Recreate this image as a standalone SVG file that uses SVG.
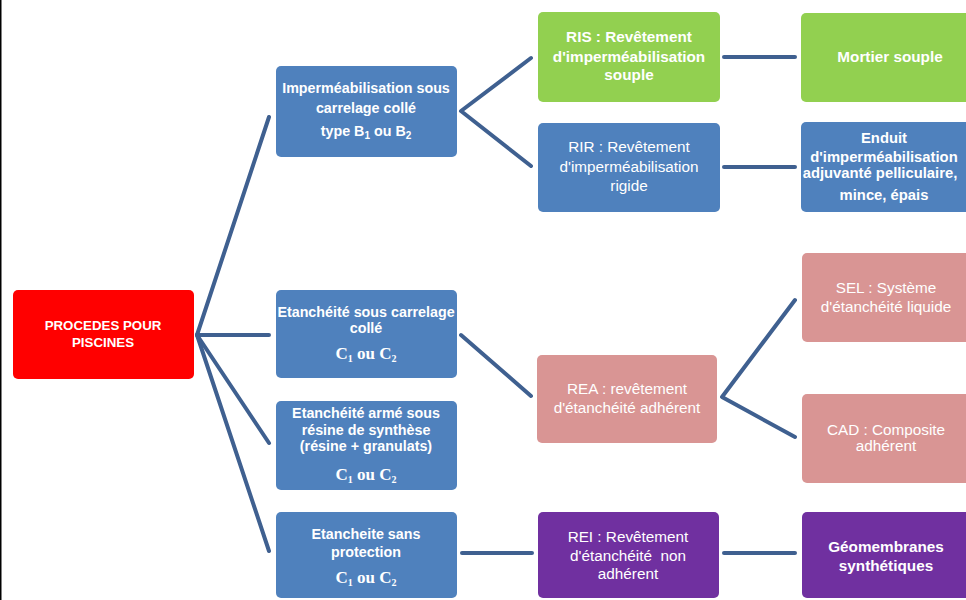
<svg xmlns="http://www.w3.org/2000/svg" width="966" height="600" viewBox="0 0 966 600">
<style>
.t{font-family:"Liberation Sans","DejaVu Sans",sans-serif;font-size:15.3px;fill:#ffffff;text-anchor:middle}
.l1{font-size:14.3px}
.rt{font-size:13.3px}
.en{font-size:14.8px}
.b{font-weight:bold}
.s{font-family:"Liberation Serif","DejaVu Serif",serif;font-weight:bold;font-size:17px;fill:#ffffff;text-anchor:middle}
.sub{font-size:10px}
.pre{white-space:pre}
.blue{fill:#4F81BD}
.green{fill:#92D050}
.pink{fill:#D99594}
.purple{fill:#7030A0}
.red{fill:#FF0000}
.c{stroke:#3F6090;stroke-width:4;fill:none;stroke-linecap:round;stroke-linejoin:round}
</style>
<rect x="0" y="0" width="966" height="600" fill="#ffffff"/>
<rect x="0" y="0" width="1.5" height="600" fill="#000000"/>
<g id="connectors">
<polyline class="c" points="269,117 197,335 269,335"/>
<polyline class="c" points="197,335 269,443"/>
<polyline class="c" points="197,335 269,551"/>
<polyline class="c" points="531,58 461,111 531,166"/>
<line class="c" x1="724" y1="57" x2="795" y2="57"/>
<line class="c" x1="724" y1="167" x2="795" y2="167"/>
<line class="c" x1="461" y1="335" x2="531" y2="396"/>
<polyline class="c" points="795,300 722,397 795,437"/>
<line class="c" x1="462" y1="553" x2="532" y2="553"/>
<line class="c" x1="724" y1="553" x2="795" y2="553"/>
</g>
<g id="root">
<rect class="red" x="13" y="290" width="181" height="89" rx="5"/>
<text class="t rt b" x="103" y="330">PROCEDES POUR</text>
<text class="t rt b" x="103" y="347">PISCINES</text>
</g>
<g id="n-imper">
<rect class="blue" x="276" y="66" width="181" height="91" rx="5"/>
<text class="t l1 b" x="366" y="93">Imperméabilisation sous</text>
<text class="t l1 b" x="366" y="113">carrelage collé</text>
<text class="t l1 b" x="366" y="136">type B<tspan class="sub" dy="3">1</tspan><tspan dy="-3"> ou B</tspan><tspan class="sub" dy="3">2</tspan></text>
</g>
<g id="n-etan1">
<rect class="blue" x="276" y="290" width="181" height="88" rx="5"/>
<text class="t l1 b" x="366" y="317">Etanchéité sous carrelage</text>
<text class="t l1 b" x="366" y="333">collé</text>
<text class="s" x="366" y="359">C<tspan class="sub" dy="3">1</tspan><tspan dy="-3"> ou C</tspan><tspan class="sub" dy="3">2</tspan></text>
</g>
<g id="n-etan2">
<rect class="blue" x="276" y="401" width="181" height="89" rx="5"/>
<text class="t l1 b" x="366" y="418">Etanchéité armé sous</text>
<text class="t l1 b" x="366" y="435">résine de synthèse</text>
<text class="t l1 b" x="366" y="451">(résine + granulats)</text>
<text class="s" x="366" y="480">C<tspan class="sub" dy="3">1</tspan><tspan dy="-3"> ou C</tspan><tspan class="sub" dy="3">2</tspan></text>
</g>
<g id="n-etan3">
<rect class="blue" x="276" y="512" width="181" height="86" rx="5"/>
<text class="t l1 b" x="366" y="539">Etancheite sans</text>
<text class="t l1 b" x="366" y="557">protection</text>
<text class="s" x="366" y="583">C<tspan class="sub" dy="3">1</tspan><tspan dy="-3"> ou C</tspan><tspan class="sub" dy="3">2</tspan></text>
</g>
<g id="n-ris">
<rect class="green" x="538" y="12" width="182" height="90" rx="5"/>
<text class="t b" x="629" y="42">RIS : Revêtement</text>
<text class="t b" x="629" y="62">d'imperméabilisation</text>
<text class="t b" x="629" y="80">souple</text>
</g>
<g id="n-rir">
<rect class="blue" x="538" y="123" width="182" height="89" rx="5"/>
<text class="t" x="629" y="152">RIR : Revêtement</text>
<text class="t" x="629" y="172">d'imperméabilisation</text>
<text class="t" x="629" y="191">rigide</text>
</g>
<g id="n-rea">
<rect class="pink" x="537" y="355" width="180" height="88" rx="5"/>
<text class="t" x="627" y="394">REA : revêtement</text>
<text class="t" x="627" y="413">d'étanchéité adhérent</text>
</g>
<g id="n-rei">
<rect class="purple" x="538" y="512" width="181" height="86" rx="5"/>
<text class="t" x="628" y="542">REI : Revêtement</text>
<text class="t pre" x="628" y="561">d'étanchéité  non</text>
<text class="t" x="628" y="579">adhérent</text>
</g>
<g id="n-mortier">
<rect class="green" x="801" y="13" width="175" height="89" rx="5"/>
<text class="t b" x="890" y="62">Mortier souple</text>
</g>
<g id="n-enduit">
<rect class="blue" x="801" y="122" width="175" height="90" rx="5"/>
<text class="t en b" x="884" y="143">Enduit</text>
<text class="t en b" x="884" y="162">d'imperméabilisation</text>
<text class="t en b" x="880" y="178">adjuvanté pelliculaire,</text>
<text class="t en b" x="884" y="200">mince, épais</text>
</g>
<g id="n-sel">
<rect class="pink" x="802" y="253" width="174" height="89" rx="5"/>
<text class="t" x="886" y="293">SEL : Système</text>
<text class="t" x="886" y="312">d'étanchéité liquide</text>
</g>
<g id="n-cad">
<rect class="pink" x="802" y="394" width="174" height="89" rx="5"/>
<text class="t" x="886" y="435">CAD : Composite</text>
<text class="t" x="886" y="451">adhérent</text>
</g>
<g id="n-geo">
<rect class="purple" x="802" y="512" width="174" height="86" rx="5"/>
<text class="t b" x="886" y="552">Géomembranes</text>
<text class="t b" x="886" y="571">synthétiques</text>
</g>
</svg>
